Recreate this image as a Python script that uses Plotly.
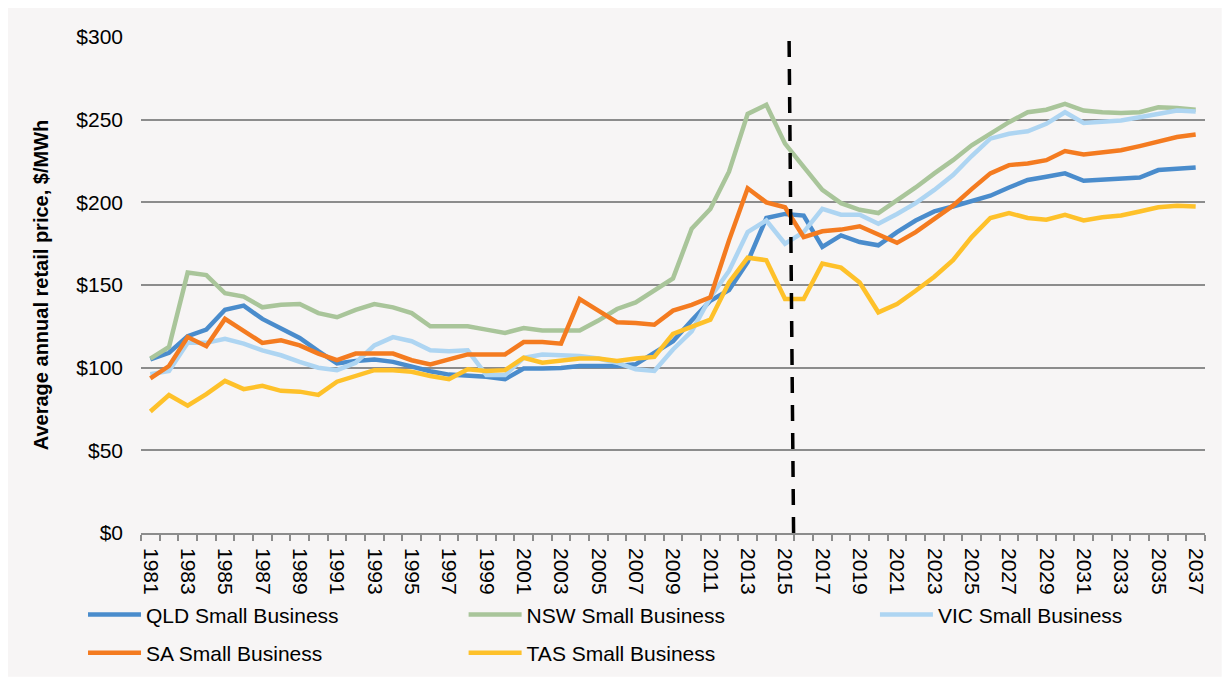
import plotly.graph_objects as go

years = list(range(1981, 2038))

qld = [105, 109, 119, 123, 135, 137.5, 129.5, 124, 118, 110,
       102.5, 104, 105, 103.5, 100.5, 97.8, 95.8, 95.2, 94.5, 93,
       99.5, 99.5, 99.8, 101, 101, 101, 102, 109, 116, 128.5,
       140.5, 147, 164, 190.5, 193, 192, 173, 180, 176, 174,
       182, 189, 194.5, 197.5, 200.5, 204, 209, 213.5, 215.5, 217.5,
       213, 213.5, 214, 215, 219.5, 220, 221]
nsw = [105.5, 112.5, 157.5, 156, 145, 143, 136.5, 138, 138.5, 133,
       130.5, 135, 138.5, 136.5, 133, 125, 125, 125, 123, 121,
       124, 122.5, 122.5, 122.5, 128.5, 135.5, 139.5, 146.5, 154, 184,
       196, 218.5, 253.5, 259, 235.5, 221.5, 207.5, 199.5, 195.5, 193.5,
       201, 209, 217.5, 225.5, 234.5, 241.5, 248.5, 254.5, 256, 259.5,
       255.5, 254.5, 254, 254.5, 257.5, 257, 256]
vic = [96, 98, 115, 115, 117.5, 114.5, 110.5, 107.5, 103.5, 100,
       98.5, 103, 113.5, 118.5, 116, 110.5, 110, 110.5, 95.5, 95.5,
       106, 108, 107.5, 107, 105.5, 103, 99, 98, 111, 122,
       142.5, 158.5, 182, 189, 175, 182, 196, 192.5, 192.5, 187,
       193, 199.5, 207.5, 216.5, 228, 238.5, 241.5, 243, 247.5, 254.5,
       248, 248.5, 249.5, 251.5, 253.5, 255.5, 255]
sa = [93.5, 101, 118.5, 113, 129.5, 122, 115, 116.5, 113.5, 108.5,
      104.5, 108.5, 108.5, 108.5, 104.5, 102, 105, 108, 108, 108,
      115.5, 115.5, 114.5, 141.5, 134.5, 127.5, 127, 126, 134.5, 138,
      142.5, 177, 208.5, 200, 197, 179, 182.5, 183.5, 185.5, 180.5,
      175.5, 182, 190, 198, 208, 217.5, 222.5, 223.5, 225.5, 231,
      229, 230.5, 231.5, 234, 237, 239.5, 241]
tas = [73.5, 83.5, 77, 84, 92, 87, 89, 86, 85.5, 83.5,
       91.5, 95, 98.5, 98.5, 97.5, 95, 93, 99, 98, 98.5,
       106, 103, 104.5, 105.5, 105.5, 104, 105.5, 106.5, 120.5, 124.5,
       129, 151.5, 166.5, 165, 141.5, 141.5, 163, 160.5, 151.5, 133.5,
       138.5, 146.5, 155, 165, 179, 190.5, 193.5, 190.5, 189.5, 192.5,
       189, 191, 192, 194.5, 197, 198, 197.5]

names = ['QLD Small Business', 'NSW Small Business', 'VIC Small Business',
         'SA Small Business', 'TAS Small Business']
colors = ['#4a8ccc', '#a9c59a', '#aed5f2', '#f47b20', '#fec12a']

# legend slot for each series (column x, row y in paper units), Excel-like grid
legend_x = [-0.0545, 0.3032, 0.6898, -0.0545, 0.3032]
legend_y = [-0.165, -0.165, -0.165, -0.242, -0.242]

# forecast marker (hand-drawn, slightly slanted in the original)
forecast_top = (2015.22, 297.6)
forecast_bottom = (2015.46, 0)

font = 'Liberation Sans, Arial, sans-serif'
panel = '#f7f5f5'
grid = '#8c8c8c'

fig = go.Figure()
legends = {}
for i, (name, vals) in enumerate(zip(names, [qld, nsw, vic, sa, tas])):
    key = 'legend' if i == 0 else 'legend%d' % (i + 1)
    fig.add_trace(go.Scatter(
        x=years, y=vals, name=name, mode='lines',
        line=dict(color=colors[i], width=4.5),
        legend=key,
    ))
    legends[key] = dict(x=legend_x[i], xanchor='left', y=legend_y[i], yanchor='middle',
                        bgcolor='rgba(0,0,0,0)', itemwidth=53,
                        font=dict(size=21, color='black'))

fig.add_shape(type='line', xref='x', yref='y',
              x0=forecast_top[0], y0=forecast_top[1],
              x1=forecast_bottom[0], y1=forecast_bottom[1],
              line=dict(color='black', width=3.5, dash='16px,12px'))

# light grey card behind the chart, thin white edge around it
fig.add_shape(type='rect', xref='paper', yref='paper', layer='below',
              x0=-0.125, x1=1.0157, y0=-0.29, y1=1.0605,
              fillcolor=panel, line=dict(width=0))

fig.update_layout(
    width=1230, height=684,
    margin=dict(l=133, r=33, t=29, b=159),
    showlegend=True,
    paper_bgcolor='white',
    plot_bgcolor='rgba(0,0,0,0)',
    font=dict(family=font, size=21, color='black'),
    xaxis=dict(
        range=[1980.5, 2037.5],
        tickmode='array',
        tickvals=years[::2],
        ticktext=[str(y) for y in years[::2]],
        tickangle=90,
        ticks='',
        ticklabelstandoff=9,
        showgrid=False,
        zeroline=False,
        showline=True, linecolor=grid, linewidth=1.5,
        minor=dict(tickmode='array', tickvals=[y - 0.5 for y in years] + [2037.5],
                   ticks='outside', ticklen=6, tickcolor=grid, tickwidth=1.5,
                   showgrid=False),
        tickfont=dict(size=21),
    ),
    yaxis=dict(
        range=[0, 300],
        dtick=50,
        tickprefix='$',
        showgrid=True, gridcolor=grid, gridwidth=1.5,
        zeroline=False, showline=False,
        ticks='',
        ticklabelstandoff=17,
        tickfont=dict(size=21),
        title=dict(text='<b>Average annual retail price, $/MWh</b>',
                   font=dict(size=20), standoff=22),
    ),
)
fig.update_layout(**legends)

fig.write_html('out.html')
